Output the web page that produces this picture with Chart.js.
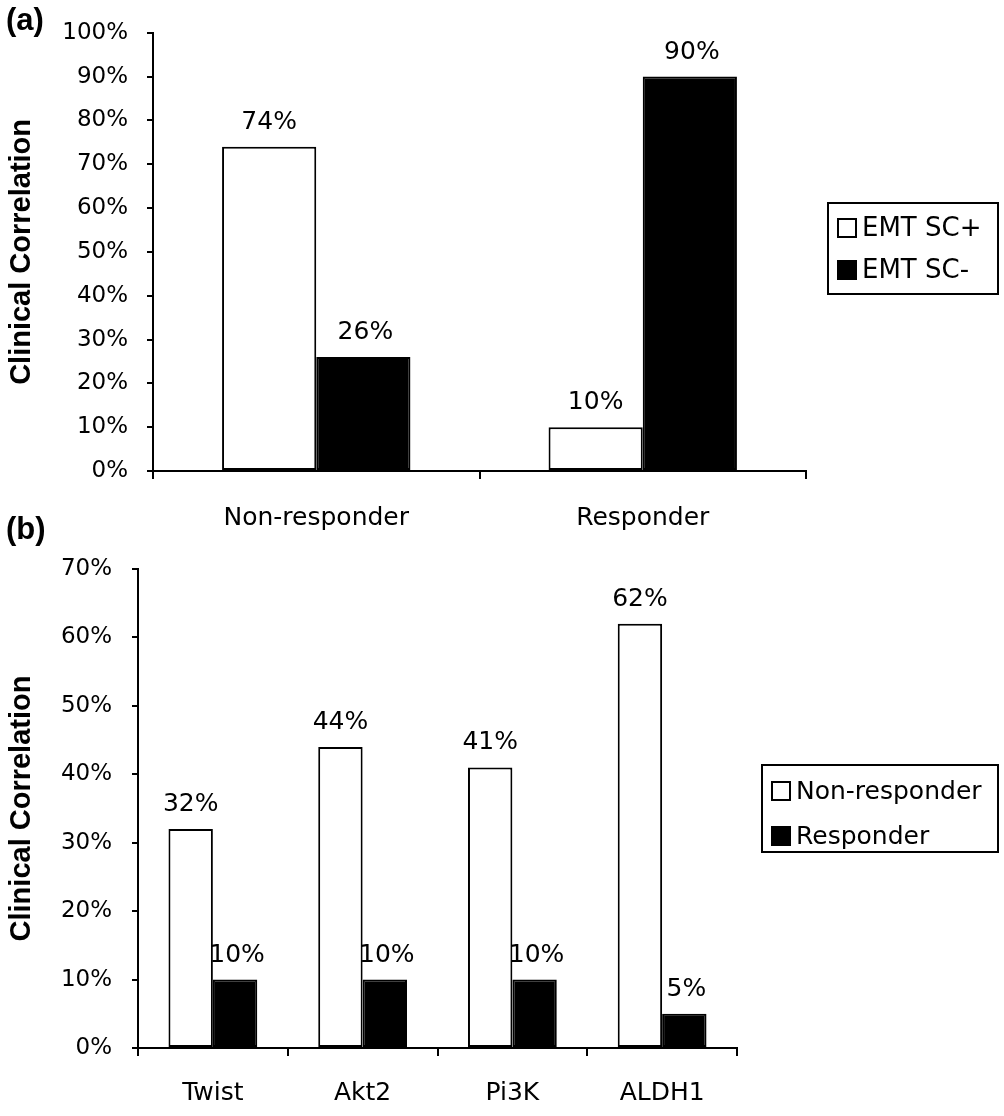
<!DOCTYPE html>
<html>
<head>
<meta charset="utf-8">
<script src="https://cdn.jsdelivr.net/npm/chart.js@4.4.1/dist/chart.umd.min.js"></script>
<style>
  html, body { margin: 0; padding: 0; background: #fff; }
  #wrapA { position: absolute; left: 0; top: 0; width: 1004px; height: 545px; }
  #wrapB { position: absolute; left: 0; top: 505px; width: 1004px; height: 611px; }
</style>
</head>
<body>
<div id="wrapA"><canvas id="chartA"></canvas></div>
<div id="wrapB"><canvas id="chartB"></canvas></div>
<script>
// panel (a)
var groupsA = ["Non-responder", "Responder"];
var emtPos = [74, 10];
var emtNeg = [26, 90];
var ticksA = [0, 10, 20, 30, 40, 50, 60, 70, 80, 90, 100];

// panel (b)
var markersB = ["Twist", "Akt2", "Pi3K", "ALDH1"];
var nonResp = [32, 44, 41, 62];
var resp = [10, 10, 10, 5];
var ticksB = [0, 10, 20, 30, 40, 50, 60, 70];

var txtFont = "'DejaVu Sans', sans-serif";
var boldFont = "'Liberation Sans', Arial, sans-serif";

// value labels drawn before bars, so the white bars cover them a bit like the original
var valueLabels = {
	id: 'valueLabels',
	beforeDatasetsDraw: function(chart){
		var ctx = chart.ctx;
		ctx.save();
		ctx.font = "25px " + txtFont;
		ctx.fillStyle = "#000";
		ctx.textAlign = "center";
		ctx.textBaseline = "alphabetic";
		chart.data.datasets.forEach(function(ds, i){
			var meta = chart.getDatasetMeta(i);
			meta.data.forEach(function(el, j){
				ctx.fillText(ds.data[j] + "%", el.x + (i == 1 ? 2 : 0), el.y - 18);
			});
		});
		ctx.restore();
	}
};

var boxLegend = {
	id: 'boxLegend',
	afterDraw: function(chart, args, opts){
		var ctx = chart.ctx;
		ctx.save();
		ctx.lineWidth = 2;
		ctx.strokeStyle = "#000";
		ctx.strokeRect(opts.x, opts.y, opts.w, opts.h);
		ctx.font = opts.size + "px " + txtFont;
		ctx.textBaseline = "middle";
		ctx.textAlign = "left";
		chart.data.datasets.forEach(function(ds, i){
			var cy = opts.firstRow + i * opts.rowGap;
			ctx.fillStyle = ds.backgroundColor;
			ctx.fillRect(opts.x + 10, cy - 9, 18, 18);
			ctx.lineWidth = 2;
			ctx.strokeRect(opts.x + 10, cy - 9, 18, 18);
			ctx.fillStyle = "#000";
			ctx.fillText(ds.label, opts.x + 34, cy + 1);
		});
		ctx.restore();
	}
};

var panelTag = {
	id: 'panelTag',
	afterDraw: function(chart, args, opts){
		var ctx = chart.ctx;
		ctx.save();
		ctx.font = "bold 31px " + boldFont;
		ctx.fillStyle = "#000";
		ctx.textAlign = "left";
		ctx.textBaseline = "middle";
		ctx.fillText(opts.text, opts.x, opts.y);
		ctx.restore();
	}
};

function makeChart(id, labels, s1, s2, names, ticks, cfg){
	var ctx = document.getElementById(id).getContext('2d');
	return new Chart(ctx, {
		type: 'bar',
		data: {
			labels: labels,
			datasets: [{
				label: names[0],
				data: s1,
				backgroundColor: '#ffffff',
				borderColor: '#000000',
				borderWidth: 2,
				borderSkipped: false,
				categoryPercentage: cfg.catPct,
				barPercentage: 1
			}, {
				label: names[1],
				data: s2,
				backgroundColor: '#000000',
				borderColor: '#000000',
				borderWidth: 2,
				borderSkipped: false,
				categoryPercentage: cfg.catPct,
				barPercentage: 1
			}]
		},
		plugins: [valueLabels, boxLegend, panelTag],
		options: {
			responsive: true,
			maintainAspectRatio: false,
			animation: false,
			layout: {
				padding: { left: 0, right: cfg.padRight, top: cfg.padTop, bottom: 0 }
			},
			scales: {
				x: {
					afterFit: function(scale){ scale.height = cfg.xHeight; },
					grid: { display: true, drawOnChartArea: false, drawTicks: true, tickLength: 8, color: '#000', lineWidth: 2, offset: true },
					border: { display: true, color: '#000', width: 2 },
					ticks: { color: '#000', font: { family: txtFont, size: 25 }, padding: cfg.xPad, maxRotation: 0 }
				},
				y: {
					min: ticks[0],
					max: ticks[ticks.length - 1],
					afterFit: function(scale){ scale.width = cfg.yWidth; },
					afterBuildTicks: function(scale){
						scale.ticks = ticks.map(function(v){ return { value: v }; });
					},
					grid: { display: true, drawOnChartArea: false, drawTicks: true, tickLength: 6, color: '#000', lineWidth: 2 },
					border: { display: true, color: '#000', width: 2 },
					ticks: {
						color: '#000',
						font: { family: txtFont, size: 23 },
						padding: cfg.yPad,
						callback: function(v){ return v + '%'; }
					},
					title: {
						display: true,
						text: 'Clinical Correlation',
						color: '#000',
						font: { family: boldFont, size: 29, weight: 'bold' },
						padding: { top: 5, bottom: 0 }
					}
				}
			},
			plugins: {
				legend: { display: false },
				tooltip: { enabled: false },
				boxLegend: cfg.legend,
				panelTag: cfg.tag
			}
		}
	});
}

makeChart('chartA', groupsA, emtPos, emtNeg, ['EMT SC+', 'EMT SC-'], ticksA, {
	catPct: 0.577,
	padRight: 198,
	padTop: 24,
	xHeight: 74,
	xPad: 24,
	yWidth: 153,
	yPad: 19,
	legend: { x: 828, y: 203, w: 170, h: 91, firstRow: 228, rowGap: 42, size: 26 },
	tag: { text: '(a)', x: 6, y: 21 }
});

makeChart('chartB', markersB, nonResp, resp, ['Non-responder', 'Responder'], ticksB, {
	catPct: 0.593,
	padRight: 267,
	padTop: 64,
	xHeight: 68,
	xPad: 22,
	yWidth: 138,
	yPad: 20,
	legend: { x: 762, y: 260, w: 236, h: 87, firstRow: 286, rowGap: 45, size: 25 },
	tag: { text: '(b)', x: 6, y: 25 }
});
</script>
</body>
</html>
